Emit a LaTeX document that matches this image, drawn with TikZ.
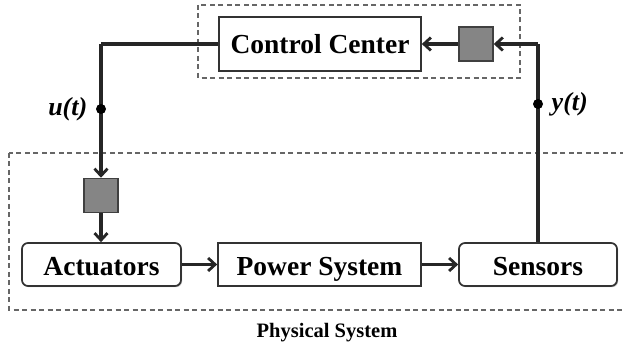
\documentclass[tikz,border=0pt]{standalone}
\usepackage{fontspec}
\setmainfont{Liberation Serif}
\usetikzlibrary{arrows.meta,shadows}
\begin{document}
\begin{tikzpicture}[x=1pt,y=1pt,
  blk/.style={draw=black!80,line width=1.7pt,fill=white,minimum height=43pt,inner sep=0pt,
    text height=23pt,text depth=0pt,
    font=\fontsize{27.5}{30}\selectfont\bfseries,
    drop shadow={shadow xshift=1.2pt,shadow yshift=-1.2pt,fill=black!35,opacity=0.6}},
  rblk/.style={blk,rounded corners=6pt},
  gsq/.style={draw=black!75,line width=1.5pt,fill=black!48,minimum width=34pt,minimum height=34pt,inner sep=0pt},
  wire/.style={draw=black!85,line width=3.2pt},
  arr/.style={wire,-{Straight Barb[length=7pt,width=13pt,line width=2.8pt]}},
  dbox/.style={draw=black!60,line width=1.5pt,dash pattern=on 5pt off 3.5pt},
  dot/.style={circle,fill=black,inner sep=0pt,minimum size=10pt},
  sig/.style={font=\fontsize{26}{28}\selectfont\bfseries\itshape}]
\clip (0,0) rectangle (623,347);
\fill[white] (0,0) rectangle (623,347);
% dashed groups
\draw[dbox] (198,342) rectangle (520,269);
\draw[dbox] (9,194) rectangle (640,37);
% blocks
\node[blk,minimum width=202pt,minimum height=54pt,text height=19pt] (cc) at (320,303) {Control Center};
\node[gsq] (sqt) at (476,303) {};
\node[gsq] (sql) at (101,151.5) {};
\node[rblk,minimum width=159pt] (act) at (101.5,82.5) {Actuators};
\node[blk,minimum width=203pt] (pow) at (319.5,82.5) {Power System};
\node[rblk,minimum width=158pt] (sen) at (538,82.5) {Sensors};
% corners
\coordinate (lc) at (101,303);
\coordinate (rc) at (538,303);
% wires
\draw[wire] (cc.west) -- (lc);
\draw[arr] (lc) -- (sql.north);
\draw[arr] (sql.south) -- (sql.south |- act.north);
\draw[arr] (act.east) -- (pow.west);
\draw[arr] (pow.east) -- (sen.west);
\draw[wire] (sen.north) -- (rc);
\draw[arr] (rc) -- (sqt.east);
\draw[arr] (sqt.west) -- (cc.east);
% signal dots
\node[dot] (u) at (101,238) {};
\node[dot] (y) at (538,243) {};
\node[sig,anchor=east] (ul) at ([xshift=-5pt]u.west) {u(t)};
\node[sig,anchor=west] (yl) at ([xshift=5pt]y.east) {y(t)};
\node[font=\fontsize{20.5}{24}\selectfont\bfseries] (ps) at (327,14) {Physical System};
\end{tikzpicture}
\end{document}
